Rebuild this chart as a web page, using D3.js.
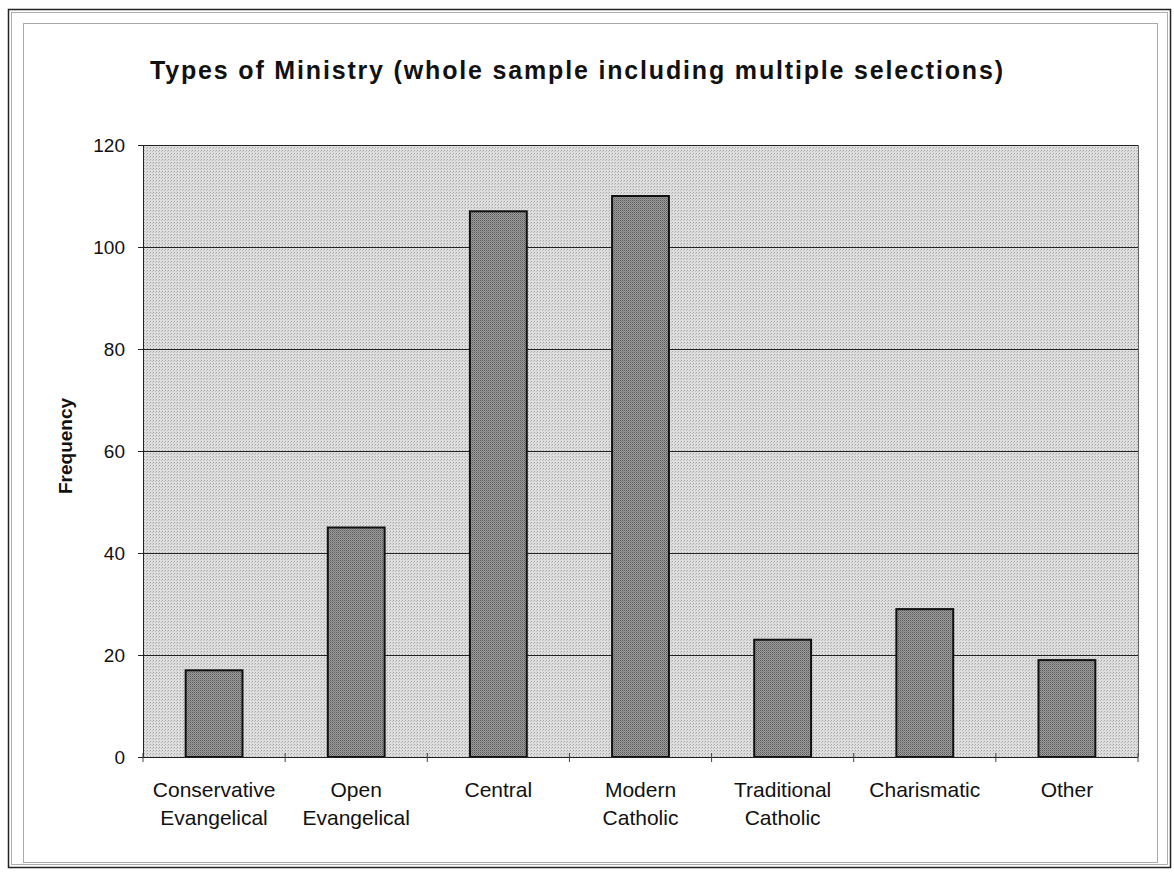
<!DOCTYPE html>
<html>
<head>
<meta charset="utf-8">
<script src="https://cdn.jsdelivr.net/npm/d3@7"></script>
<style>
html,body{margin:0;padding:0;background:#fff;}
svg{display:block;}
text{font-family:"Liberation Sans",Arial,sans-serif;fill:#111;}
</style>
</head>
<body>
<svg id="chart" width="1174" height="874"></svg>
<script>
const categories = [
  ["Conservative","Evangelical"],
  ["Open","Evangelical"],
  ["Central"],
  ["Modern","Catholic"],
  ["Traditional","Catholic"],
  ["Charismatic"],
  ["Other"]
];
const values = [17, 45, 107, 110, 23, 29, 19];
const yTicks = [0, 20, 40, 60, 80, 100, 120];
const title = "Types of Ministry (whole sample including multiple selections)";
const yLabel = "Frequency";

const svg = d3.select("#chart");
const plot = {left: 143, right: 1138, top: 145, bottom: 757};

// Frame
svg.append("rect").attr("x", 8.5).attr("y", 9.5).attr("width", 1162).attr("height", 858)
  .attr("fill", "none").attr("stroke", "#222").attr("stroke-width", 1.5);
svg.append("rect").attr("x", 11.5).attr("y", 12.5).attr("width", 1156).attr("height", 852)
  .attr("fill", "none").attr("stroke", "#999").attr("stroke-width", 0.8);
svg.append("rect").attr("x", 23.5).attr("y", 23.5).attr("width", 1134).attr("height", 839)
  .attr("fill", "none").attr("stroke", "#aaa").attr("stroke-width", 1);

// Patterns to mimic stippled fills
const defs = svg.append("defs");
const p1 = defs.append("pattern").attr("id", "bgpat").attr("width", 3).attr("height", 3)
  .attr("patternUnits", "userSpaceOnUse");
p1.append("rect").attr("width", 3).attr("height", 3).attr("fill", "#dedede");
p1.append("rect").attr("width", 1).attr("height", 1).attr("fill", "#a6a6a6");
p1.append("rect").attr("x", 2).attr("y", 1).attr("width", 1).attr("height", 1).attr("fill", "#bdbdbd");
const p2 = defs.append("pattern").attr("id", "barpat").attr("width", 2).attr("height", 2)
  .attr("patternUnits", "userSpaceOnUse");
p2.append("rect").attr("width", 2).attr("height", 2).attr("fill", "#9c9c9c");
p2.append("rect").attr("width", 1).attr("height", 1).attr("fill", "#5c5c5c");
p2.append("rect").attr("x", 1).attr("y", 1).attr("width", 1).attr("height", 1).attr("fill", "#7a7a7a");

const x = d3.scaleBand().domain(d3.range(categories.length))
  .range([plot.left, plot.right]).paddingInner(0.6).paddingOuter(0.3);
const y = d3.scaleLinear().domain([0, 120]).range([plot.bottom, plot.top]);

// Plot background
svg.append("rect").attr("x", plot.left).attr("y", plot.top)
  .attr("width", plot.right - plot.left).attr("height", plot.bottom - plot.top)
  .attr("fill", "url(#bgpat)");

// Gridlines
svg.append("g").selectAll("line").data(yTicks.filter(d => d > 0)).join("line")
  .attr("x1", plot.left).attr("x2", plot.right)
  .attr("y1", d => Math.round(y(d)) + 0.5).attr("y2", d => Math.round(y(d)) + 0.5)
  .attr("stroke", "#222").attr("stroke-width", 1.2);

// Right border of plot (light)
svg.append("line").attr("x1", plot.right + 0.5).attr("x2", plot.right + 0.5)
  .attr("y1", plot.top).attr("y2", plot.bottom).attr("stroke", "#666").attr("stroke-width", 1);

// Bars
svg.append("g").selectAll("rect").data(values).join("rect")
  .attr("x", (d, i) => x(i)).attr("width", x.bandwidth())
  .attr("y", d => y(d)).attr("height", d => y(0) - y(d))
  .attr("fill", "url(#barpat)").attr("stroke", "#111").attr("stroke-width", 2);

// Y axis
const yAxis = d3.axisLeft(y).tickValues(yTicks).tickSize(5).tickPadding(13);
const gy = svg.append("g").attr("transform", `translate(${plot.left},0)`).call(yAxis);
gy.select(".domain").attr("stroke", "#222");
gy.selectAll(".tick line").attr("stroke", "#222");
gy.selectAll(".tick text").attr("font-size", 19).attr("font-family", '"Liberation Sans",Arial,sans-serif').attr("fill", "#222");

// X axis line with category-boundary ticks
const xAxisG = svg.append("g");
xAxisG.append("line").attr("x1", plot.left).attr("x2", plot.right)
  .attr("y1", plot.bottom + 0.5).attr("y2", plot.bottom + 0.5).attr("stroke", "#222");
const step = x.step();
const boundaries = d3.range(categories.length + 1).map(i => x(0) + x.bandwidth() / 2 - step / 2 + i * step);
xAxisG.selectAll("line.tk").data(boundaries).join("line").attr("class", "tk")
  .attr("x1", d => d).attr("x2", d => d)
  .attr("y1", plot.bottom - 4).attr("y2", plot.bottom + 5).attr("stroke", "#444");

// Category labels
const lab = svg.append("g").selectAll("text").data(categories).join("text")
  .attr("text-anchor", "middle").attr("font-size", 21).attr("fill", "#222");
lab.each(function(d, i) {
  const t = d3.select(this);
  d.forEach((line, j) => {
    t.append("tspan").attr("x", x(i) + x.bandwidth() / 2).attr("y", 797 + j * 28).text(line);
  });
});

// Title
svg.append("text").attr("x", 150).attr("y", 79).attr("text-anchor", "start")
  .attr("font-size", 25).attr("font-weight", "bold").attr("fill", "#111")
  .attr("textLength", 853).attr("lengthAdjust", "spacing").text(title);

// Y label
svg.append("text").attr("transform", "translate(72,446) rotate(-90)")
  .attr("text-anchor", "middle").attr("font-size", 19).attr("font-weight", "bold")
  .attr("fill", "#111").text(yLabel);
</script>
</body>
</html>
